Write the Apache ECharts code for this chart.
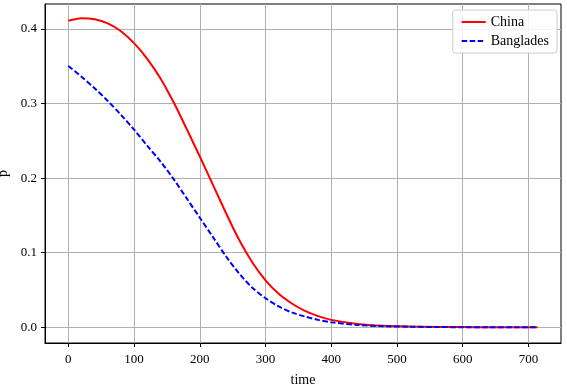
<!DOCTYPE html>
<html>
<head>
<meta charset="utf-8">
<script src="https://cdn.jsdelivr.net/npm/echarts@6/dist/echarts.min.js"></script>
<style>
  html, body { margin: 0; padding: 0; background: #fff; }
  #chart { width: 567px; height: 387px; }
</style>
</head>
<body>
<div id="chart"></div>
<script>
// values
var time = [0, 20, 40, 60, 80, 100, 120, 140, 160, 180, 200, 220, 240, 260, 280, 300, 320, 340, 360, 380, 400, 440, 480, 520, 560, 600, 640, 680, 714];
var china = [0.411, 0.4145, 0.413, 0.4075, 0.397, 0.381, 0.360, 0.334, 0.302, 0.266, 0.229, 0.191, 0.153, 0.117, 0.087, 0.063, 0.045, 0.032, 0.022, 0.015, 0.010, 0.0045, 0.002, 0.001, 0.0005, 0.0003, 0.0002, 0.0001, 0.0001];
var banglades = [0.3505, 0.336, 0.3205, 0.3035, 0.285, 0.265, 0.2435, 0.2225, 0.199, 0.173, 0.147, 0.121, 0.095, 0.072, 0.053, 0.039, 0.028, 0.020, 0.0145, 0.010, 0.0068, 0.0032, 0.0015, 0.0008, 0.0004, 0.0002, 0.0001, 0.0001, 0.0001];
var xTicks = [0, 100, 200, 300, 400, 500, 600, 700];
var yTicks = [0, 0.1, 0.2, 0.3, 0.4];

function pairs(ys) {
  return time.map(function (t, i) { return [t, ys[i]]; });
}

var font = 'Liberation Serif';
var chart = echarts.init(document.getElementById('chart'));
chart.setOption({
  animation: false,
  textStyle: { fontFamily: font },
  grid: {
    left: 45, right: 6, top: 4, bottom: 44,
    outerBoundsMode: 'none',
    containLabel: false,
    show: true, borderColor: '#000', borderWidth: 1
  },
  legend: {
    orient: 'vertical',
    right: 10,
    top: 10,
    padding: [5, 8],
    itemGap: 5,
    itemWidth: 24,
    itemHeight: 14,
    borderColor: '#cccccc',
    borderWidth: 1,
    borderRadius: 3,
    backgroundColor: 'rgba(255,255,255,0.85)',
    itemStyle: { opacity: 0 },
    textStyle: { fontFamily: font, fontSize: 14, color: '#000' },
    data: ['China', 'Banglades']
  },
  xAxis: {
    type: 'value',
    min: -35.5,
    max: 749.5,
    name: 'time',
    nameLocation: 'middle',
    nameGap: 30,
    nameTextStyle: { fontFamily: font, fontSize: 14, color: '#000' },
    axisLine: { show: true, onZero: false, lineStyle: { color: '#000', width: 1 } },
    axisTick: { show: true, length: 4, lineStyle: { color: '#000' }, customValues: xTicks },
    axisLabel: { margin: 10, fontSize: 13, color: '#000', fontFamily: font, customValues: xTicks },
    splitLine: { show: true, lineStyle: { color: '#b0b0b0', width: 1 } }
  },
  yAxis: {
    type: 'value',
    min: -0.021,
    max: 0.4335,
    name: 'p',
    nameLocation: 'middle',
    nameGap: 32,
    nameRotate: 90,
    nameTextStyle: { fontFamily: font, fontSize: 14, color: '#000' },
    axisLine: { show: true, onZero: false, lineStyle: { color: '#000', width: 1 } },
    axisTick: { show: true, length: 4, lineStyle: { color: '#000' }, customValues: yTicks },
    axisLabel: {
      margin: 8, fontSize: 13, color: '#000', fontFamily: font, customValues: yTicks,
      formatter: function (v) { return v.toFixed(1); }
    },
    splitLine: { show: true, lineStyle: { color: '#b0b0b0', width: 1 } }
  },
  series: [{
    name: 'China',
    type: 'line',
    data: pairs(china),
    symbol: 'none',
    smooth: 0.3,
    itemStyle: { color: '#ff0000' },
    lineStyle: { color: '#ff0000', width: 2 }
  }, {
    name: 'Banglades',
    type: 'line',
    data: pairs(banglades),
    symbol: 'none',
    smooth: 0.3,
    itemStyle: { color: '#0000ff' },
    lineStyle: { color: '#0000ff', width: 2, type: [5.5, 2.5] }
  }]
});
</script>
</body>
</html>
